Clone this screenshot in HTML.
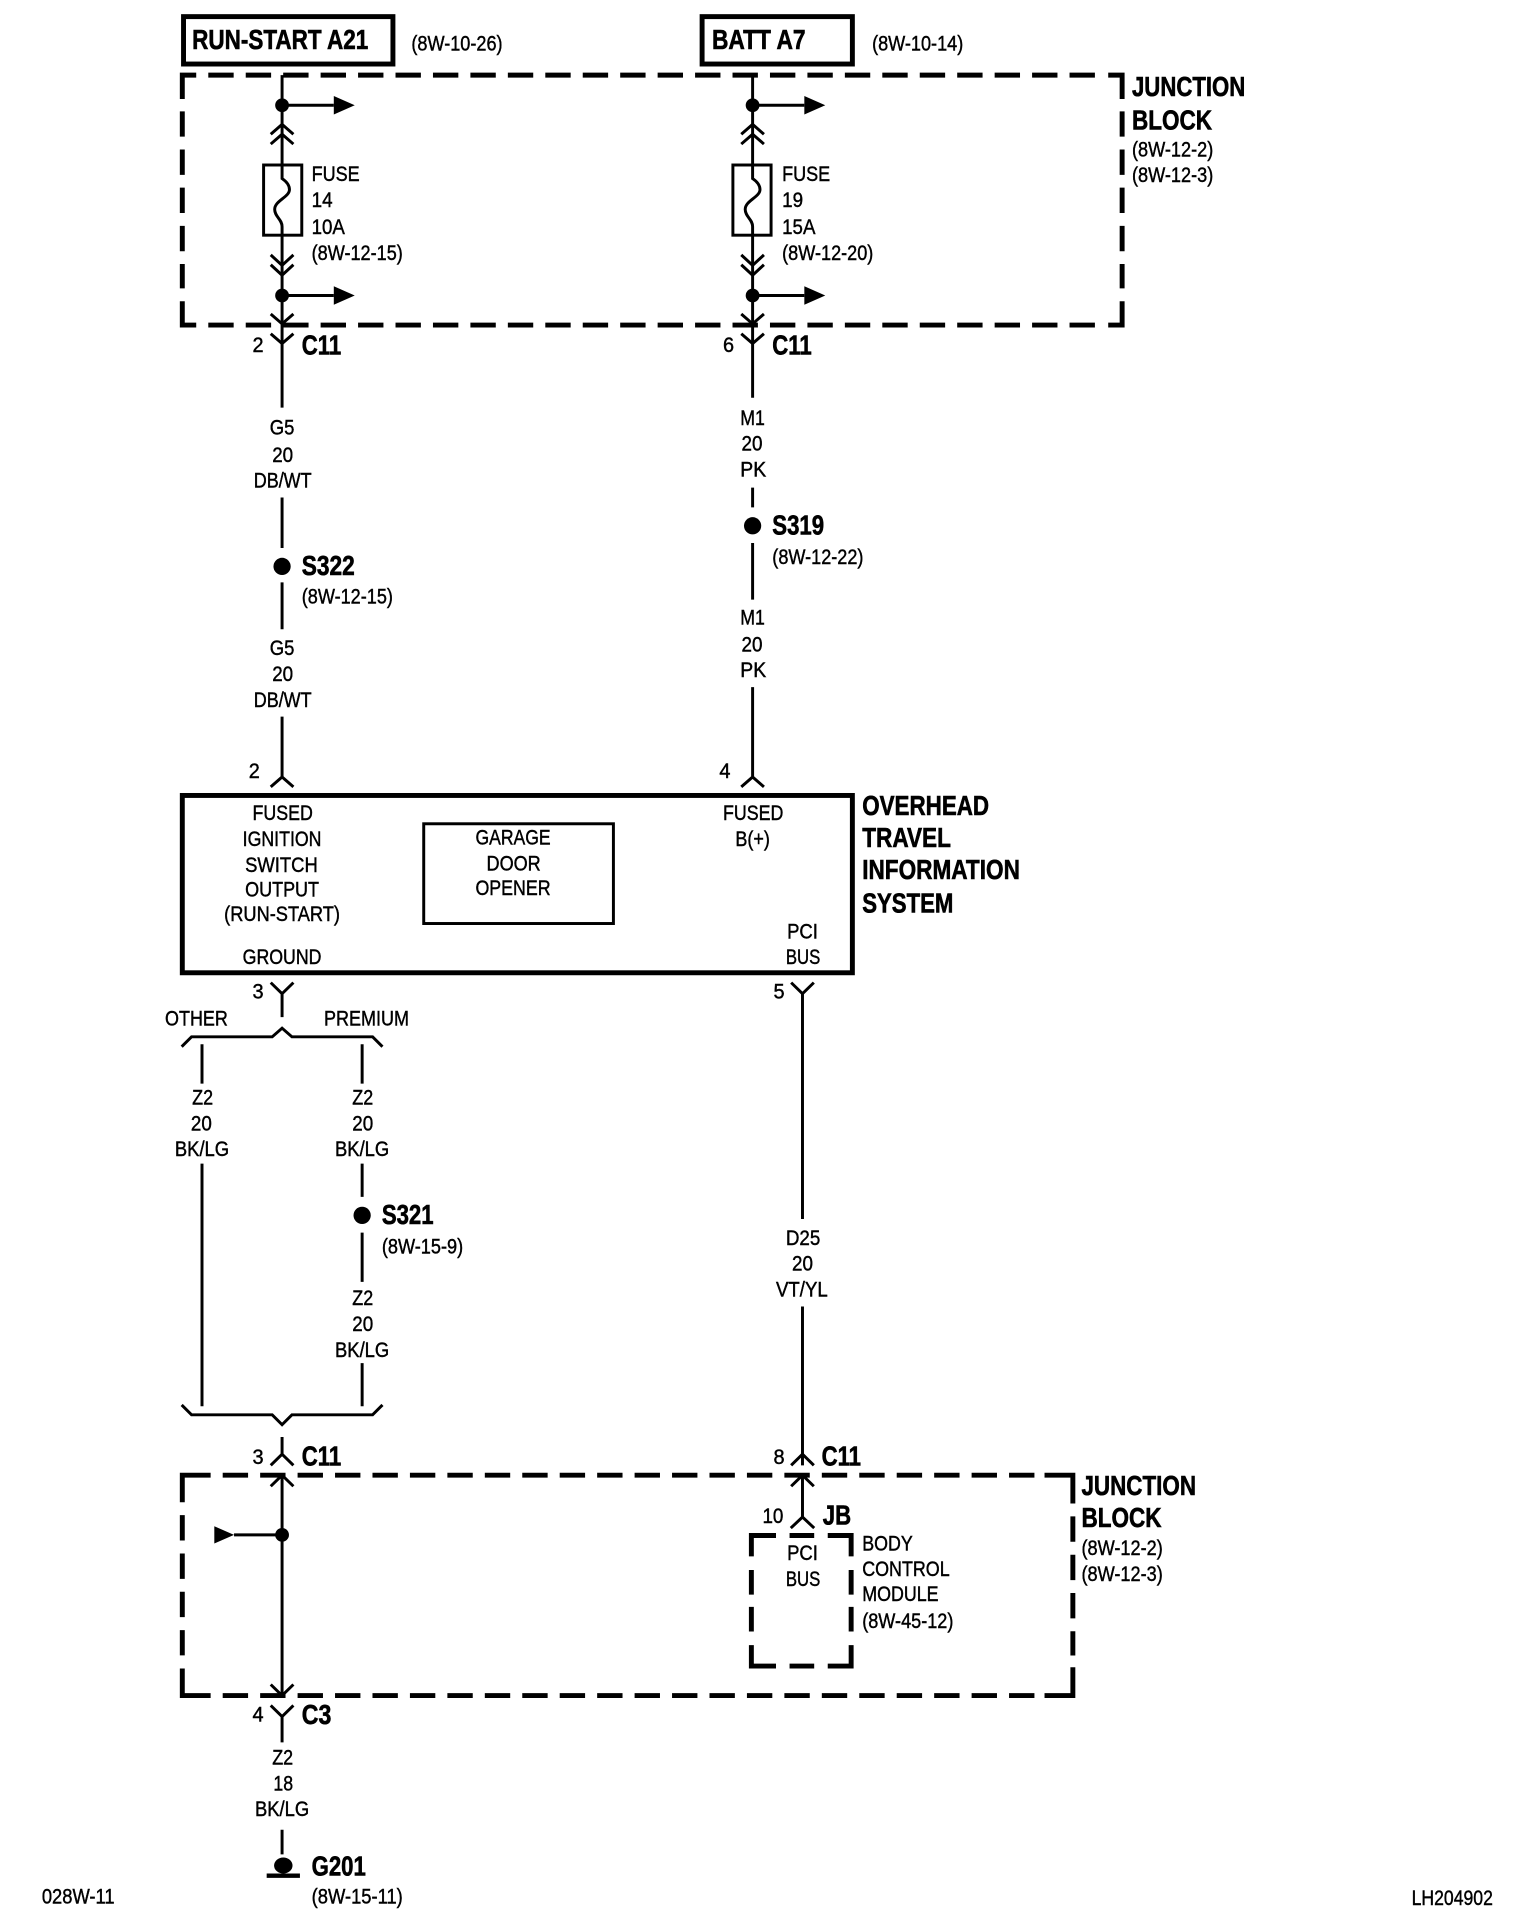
<!DOCTYPE html>
<html><head><meta charset="utf-8"><title>Wiring diagram</title>
<style>
html,body{margin:0;padding:0;background:#fff}
svg{display:block}
text{font-family:"Liberation Sans",Arial,sans-serif;fill:#000;stroke:#000;stroke-width:.35}
.r{font-size:17px}
.b{font-size:22.5px;font-weight:bold;stroke-width:.5}
.w,.t,.d{fill:none;stroke:#000}
.w{stroke-width:2.4}.t{stroke-width:4}
.d{stroke-width:4;stroke-dasharray:20.6 9.8}
.v{stroke-dasharray:20.6 10.4}
</style></head><body>
<svg width="1536" height="1932" viewBox="0 0 1247 1569" preserveAspectRatio="none" xmlns="http://www.w3.org/2000/svg">
<rect width="1247" height="1569" fill="#fff"/>
<!-- header boxes -->
<rect class="t" x="149" y="13.5" width="170" height="38.5"/>
<rect class="t" x="570" y="13.5" width="122" height="38.5"/>
<!-- upper junction block -->
<path class="t" d="M148,80.4V61H159.3M899.7,61H911V80.4M148,244.6V264H159.3M899.7,264H911V244.6"/>
<path class="d" d="M169.1,61H889.9M169.1,264H889.9"/>
<path class="d v" d="M148,90.4V234.2M911,90.4V234.2"/>
<!-- left fused column -->
<path class="w" d="M229,61V331"/>
<path class="w" d="M229,85.5H271M219.8,109L229,101L238.2,109M219.8,117L229,109L238.2,117M219.8,207L229,215.5L238.2,207M219.8,215L229,223.5L238.2,215M229,240H271M219.8,255L229,263L238.2,255M219.8,271L229,279L238.2,271"/>
<rect x="214" y="134" width="31" height="57" fill="#fff" stroke="#000" stroke-width="2.4"/>
<path class="w" d="M229,134V145C232,147 235,150 235,154C235,160 223,163 223,170C223,176 229,178 229,184V191"/>
<path d="M271,78L288,85.5L271,93ZM271,232.5L288,240L271,247.5Z"/>
<circle cx="229" cy="85.5" r="5.6"/><circle cx="229" cy="240" r="5.6"/>
<!-- right fused column -->
<path class="w" d="M611,61V323"/>
<path class="w" d="M611,85.5H653M601.8,109L611,101L620.2,109M601.8,117L611,109L620.2,117M601.8,207L611,215.5L620.2,207M601.8,215L611,223.5L620.2,215M611,240H653M601.8,255L611,263L620.2,255M601.8,271L611,279L620.2,271"/>
<rect x="595" y="134" width="31" height="57" fill="#fff" stroke="#000" stroke-width="2.4"/>
<path class="w" d="M611,134V145C614,147 617,150 617,154C617,160 605,163 605,170C605,176 611,178 611,184V191"/>
<path d="M653,78L670,85.5L653,93ZM653,232.5L670,240L653,247.5Z"/>
<circle cx="611" cy="85.5" r="5.6"/><circle cx="611" cy="240" r="5.6"/>
<!-- wires to module -->
<path class="w" d="M229,404V445M229,473V511M229,582V632M219.8,639L229,631L238.2,639"/>
<circle cx="229" cy="460" r="7"/>
<path class="w" d="M611,396V412M611,441V487M611,558V632M601.8,639L611,631L620.2,639"/>
<circle cx="611" cy="427" r="7"/>
<!-- module -->
<rect class="t" x="148" y="646" width="544" height="144"/>
<rect x="344" y="669" width="154" height="81" fill="none" stroke="#000" stroke-width="2.4"/>
<!-- below module -->
<path class="w" d="M219.8,798L229,807L238.2,798M229,807V826M147.5,850L155.5,842H221L229,835L237,842H302.5L310.5,850"/>
<path class="w" d="M651.5,807V990M642.3,798L651.5,807L660.7,798M651.5,1061V1190M642.3,1190L651.5,1181L660.7,1190"/>
<path class="w" d="M164,848V880M164,945V1142M294,848V880M294,945V972M294,1001V1041M294,1107V1142"/>
<circle cx="294" cy="987" r="7"/>
<path class="w" d="M147.5,1141L155.5,1149H221L229,1157L237,1149H302.5L310.5,1141"/>
<path class="w" d="M229,1167V1182M219.8,1190L229,1181L238.2,1190"/>
<!-- lower junction block -->
<path class="t" d="M148,1220V1198H171M848,1198H871V1221M148,1355V1377H171M848,1377H871V1354"/>
<path class="d" d="M180.8,1198H840.2M180.8,1377H840.2"/>
<path class="d" style="stroke-dasharray:20.6 10.5" d="M148,1230.5V1344.5M871,1231.5V1344.5"/>
<path class="w" d="M229,1198V1377M219.8,1207L229,1198L238.2,1207M219.8,1368L229,1377L238.2,1368M190,1246.5H229M219.8,1385L229,1394L238.2,1385M229,1394V1415M229,1486V1506"/>
<path d="M174,1239.5L190,1246.5L174,1253.5Z"/>
<circle cx="229" cy="1246.5" r="5.6"/>
<path class="w" d="M651.5,1198V1232M642.3,1207L651.5,1198L660.7,1207M642,1241L651.5,1232L661,1241"/>
<!-- PCI dashed box -->
<path class="t" d="M610,1264V1247H630M672,1247H691V1264M610,1336V1353H630M672,1353H691V1336"/>
<path class="t" d="M641,1247H661M641,1353H661M610,1275V1295M610,1305V1325M691,1275V1295M691,1305V1325"/>
<!-- ground -->
<ellipse cx="230" cy="1515" rx="7.5" ry="6.5"/>
<path d="M216.5,1521.5H243.5V1525H216.5Z"/>

<!-- text -->
<text class="b" x="156" y="40" textLength="143" lengthAdjust="spacingAndGlyphs">RUN-START A21</text>
<text class="r" x="334" y="41" textLength="74" lengthAdjust="spacingAndGlyphs">(8W-10-26)</text>
<text class="b" x="578" y="40" textLength="76" lengthAdjust="spacingAndGlyphs">BATT A7</text>
<text class="r" x="708" y="41" textLength="74" lengthAdjust="spacingAndGlyphs">(8W-10-14)</text>
<text class="b" x="919" y="78" textLength="92" lengthAdjust="spacingAndGlyphs">JUNCTION</text>
<text class="b" x="919" y="105" textLength="65" lengthAdjust="spacingAndGlyphs">BLOCK</text>
<text class="r" x="919" y="127" textLength="66" lengthAdjust="spacingAndGlyphs">(8W-12-2)</text>
<text class="r" x="919" y="148" textLength="66" lengthAdjust="spacingAndGlyphs">(8W-12-3)</text>

<text class="r" x="253" y="147" textLength="39" lengthAdjust="spacingAndGlyphs">FUSE</text>
<text class="r" x="253" y="168" textLength="17" lengthAdjust="spacingAndGlyphs">14</text>
<text class="r" x="253" y="190" textLength="27" lengthAdjust="spacingAndGlyphs">10A</text>
<text class="r" x="253" y="211" textLength="74" lengthAdjust="spacingAndGlyphs">(8W-12-15)</text>
<text class="r" x="635" y="147" textLength="39" lengthAdjust="spacingAndGlyphs">FUSE</text>
<text class="r" x="635" y="168" textLength="17" lengthAdjust="spacingAndGlyphs">19</text>
<text class="r" x="635" y="190" textLength="27" lengthAdjust="spacingAndGlyphs">15A</text>
<text class="r" x="635" y="211" textLength="74" lengthAdjust="spacingAndGlyphs">(8W-12-20)</text>

<text class="r" x="205" y="286" textLength="9" lengthAdjust="spacingAndGlyphs">2</text>
<text class="b" x="245" y="288" textLength="32" lengthAdjust="spacingAndGlyphs">C11</text>
<text class="r" x="587" y="286" textLength="9" lengthAdjust="spacingAndGlyphs">6</text>
<text class="b" x="627" y="288" textLength="32" lengthAdjust="spacingAndGlyphs">C11</text>

<text class="r" x="219" y="353" textLength="20" lengthAdjust="spacingAndGlyphs">G5</text>
<text class="r" x="221" y="375" textLength="17" lengthAdjust="spacingAndGlyphs">20</text>
<text class="r" x="206" y="396" textLength="47" lengthAdjust="spacingAndGlyphs">DB/WT</text>
<text class="b" x="245" y="467" textLength="43" lengthAdjust="spacingAndGlyphs">S322</text>
<text class="r" x="245" y="490" textLength="74" lengthAdjust="spacingAndGlyphs">(8W-12-15)</text>
<text class="r" x="219" y="532" textLength="20" lengthAdjust="spacingAndGlyphs">G5</text>
<text class="r" x="221" y="553" textLength="17" lengthAdjust="spacingAndGlyphs">20</text>
<text class="r" x="206" y="574" textLength="47" lengthAdjust="spacingAndGlyphs">DB/WT</text>

<text class="r" x="601" y="345" textLength="20" lengthAdjust="spacingAndGlyphs">M1</text>
<text class="r" x="602" y="366" textLength="17" lengthAdjust="spacingAndGlyphs">20</text>
<text class="r" x="601" y="387" textLength="21" lengthAdjust="spacingAndGlyphs">PK</text>
<text class="b" x="627" y="434" textLength="42" lengthAdjust="spacingAndGlyphs">S319</text>
<text class="r" x="627" y="458" textLength="74" lengthAdjust="spacingAndGlyphs">(8W-12-22)</text>
<text class="r" x="601" y="507" textLength="20" lengthAdjust="spacingAndGlyphs">M1</text>
<text class="r" x="602" y="529" textLength="17" lengthAdjust="spacingAndGlyphs">20</text>
<text class="r" x="601" y="550" textLength="21" lengthAdjust="spacingAndGlyphs">PK</text>

<text class="r" x="202" y="632" textLength="9" lengthAdjust="spacingAndGlyphs">2</text>
<text class="r" x="584" y="632" textLength="9" lengthAdjust="spacingAndGlyphs">4</text>

<text class="r" x="205" y="666" textLength="49" lengthAdjust="spacingAndGlyphs">FUSED</text>
<text class="r" x="197" y="687" textLength="64" lengthAdjust="spacingAndGlyphs">IGNITION</text>
<text class="r" x="199" y="708" textLength="59" lengthAdjust="spacingAndGlyphs">SWITCH</text>
<text class="r" x="199" y="728" textLength="60" lengthAdjust="spacingAndGlyphs">OUTPUT</text>
<text class="r" x="182" y="748" textLength="94" lengthAdjust="spacingAndGlyphs">(RUN-START)</text>
<text class="r" x="197" y="783" textLength="64" lengthAdjust="spacingAndGlyphs">GROUND</text>
<text class="r" x="386" y="686" textLength="61" lengthAdjust="spacingAndGlyphs">GARAGE</text>
<text class="r" x="395" y="707" textLength="44" lengthAdjust="spacingAndGlyphs">DOOR</text>
<text class="r" x="386" y="727" textLength="61" lengthAdjust="spacingAndGlyphs">OPENER</text>
<text class="r" x="587" y="666" textLength="49" lengthAdjust="spacingAndGlyphs">FUSED</text>
<text class="r" x="597" y="687" textLength="28" lengthAdjust="spacingAndGlyphs">B(+)</text>
<text class="r" x="639" y="762" textLength="25" lengthAdjust="spacingAndGlyphs">PCI</text>
<text class="r" x="638" y="783" textLength="28" lengthAdjust="spacingAndGlyphs">BUS</text>
<text class="b" x="700" y="662" textLength="103" lengthAdjust="spacingAndGlyphs">OVERHEAD</text>
<text class="b" x="700" y="688" textLength="72" lengthAdjust="spacingAndGlyphs">TRAVEL</text>
<text class="b" x="700" y="714" textLength="128" lengthAdjust="spacingAndGlyphs">INFORMATION</text>
<text class="b" x="700" y="741" textLength="74" lengthAdjust="spacingAndGlyphs">SYSTEM</text>

<text class="r" x="205" y="811" textLength="9" lengthAdjust="spacingAndGlyphs">3</text>
<text class="r" x="628" y="811" textLength="9" lengthAdjust="spacingAndGlyphs">5</text>
<text class="r" x="134" y="833" textLength="51" lengthAdjust="spacingAndGlyphs">OTHER</text>
<text class="r" x="263" y="833" textLength="69" lengthAdjust="spacingAndGlyphs">PREMIUM</text>

<text class="r" x="156" y="897" textLength="17" lengthAdjust="spacingAndGlyphs">Z2</text>
<text class="r" x="155" y="918" textLength="17" lengthAdjust="spacingAndGlyphs">20</text>
<text class="r" x="142" y="939" textLength="44" lengthAdjust="spacingAndGlyphs">BK/LG</text>
<text class="r" x="286" y="897" textLength="17" lengthAdjust="spacingAndGlyphs">Z2</text>
<text class="r" x="286" y="918" textLength="17" lengthAdjust="spacingAndGlyphs">20</text>
<text class="r" x="272" y="939" textLength="44" lengthAdjust="spacingAndGlyphs">BK/LG</text>
<text class="b" x="310" y="994" textLength="42" lengthAdjust="spacingAndGlyphs">S321</text>
<text class="r" x="310" y="1018" textLength="66" lengthAdjust="spacingAndGlyphs">(8W-15-9)</text>
<text class="r" x="286" y="1060" textLength="17" lengthAdjust="spacingAndGlyphs">Z2</text>
<text class="r" x="286" y="1081" textLength="17" lengthAdjust="spacingAndGlyphs">20</text>
<text class="r" x="272" y="1102" textLength="44" lengthAdjust="spacingAndGlyphs">BK/LG</text>

<text class="r" x="638" y="1011" textLength="28" lengthAdjust="spacingAndGlyphs">D25</text>
<text class="r" x="643" y="1032" textLength="17" lengthAdjust="spacingAndGlyphs">20</text>
<text class="r" x="630" y="1053" textLength="42" lengthAdjust="spacingAndGlyphs">VT/YL</text>

<text class="r" x="205" y="1189" textLength="9" lengthAdjust="spacingAndGlyphs">3</text>
<text class="b" x="245" y="1190" textLength="32" lengthAdjust="spacingAndGlyphs">C11</text>
<text class="r" x="628" y="1189" textLength="9" lengthAdjust="spacingAndGlyphs">8</text>
<text class="b" x="667" y="1190" textLength="32" lengthAdjust="spacingAndGlyphs">C11</text>
<text class="b" x="878" y="1214" textLength="93" lengthAdjust="spacingAndGlyphs">JUNCTION</text>
<text class="b" x="878" y="1240" textLength="65" lengthAdjust="spacingAndGlyphs">BLOCK</text>
<text class="r" x="878" y="1263" textLength="66" lengthAdjust="spacingAndGlyphs">(8W-12-2)</text>
<text class="r" x="878" y="1284" textLength="66" lengthAdjust="spacingAndGlyphs">(8W-12-3)</text>

<text class="r" x="619" y="1237" textLength="17" lengthAdjust="spacingAndGlyphs">10</text>
<text class="b" x="668" y="1238" textLength="23" lengthAdjust="spacingAndGlyphs">JB</text>
<text class="r" x="639" y="1267" textLength="25" lengthAdjust="spacingAndGlyphs">PCI</text>
<text class="r" x="638" y="1288" textLength="28" lengthAdjust="spacingAndGlyphs">BUS</text>
<text class="r" x="700" y="1259" textLength="41" lengthAdjust="spacingAndGlyphs">BODY</text>
<text class="r" x="700" y="1280" textLength="71" lengthAdjust="spacingAndGlyphs">CONTROL</text>
<text class="r" x="700" y="1300" textLength="62" lengthAdjust="spacingAndGlyphs">MODULE</text>
<text class="r" x="700" y="1322" textLength="74" lengthAdjust="spacingAndGlyphs">(8W-45-12)</text>

<text class="r" x="205" y="1398" textLength="9" lengthAdjust="spacingAndGlyphs">4</text>
<text class="b" x="245" y="1400" textLength="24" lengthAdjust="spacingAndGlyphs">C3</text>
<text class="r" x="221" y="1433" textLength="17" lengthAdjust="spacingAndGlyphs">Z2</text>
<text class="r" x="222" y="1454" textLength="16" lengthAdjust="spacingAndGlyphs">18</text>
<text class="r" x="207" y="1475" textLength="44" lengthAdjust="spacingAndGlyphs">BK/LG</text>
<text class="b" x="253" y="1523" textLength="44" lengthAdjust="spacingAndGlyphs">G201</text>
<text class="r" x="253" y="1546" textLength="74" lengthAdjust="spacingAndGlyphs">(8W-15-11)</text>
<text class="r" x="34" y="1546" textLength="59" lengthAdjust="spacingAndGlyphs">028W-11</text>
<text class="r" x="1146" y="1547" textLength="66" lengthAdjust="spacingAndGlyphs">LH204902</text>
</svg>
</body></html>
